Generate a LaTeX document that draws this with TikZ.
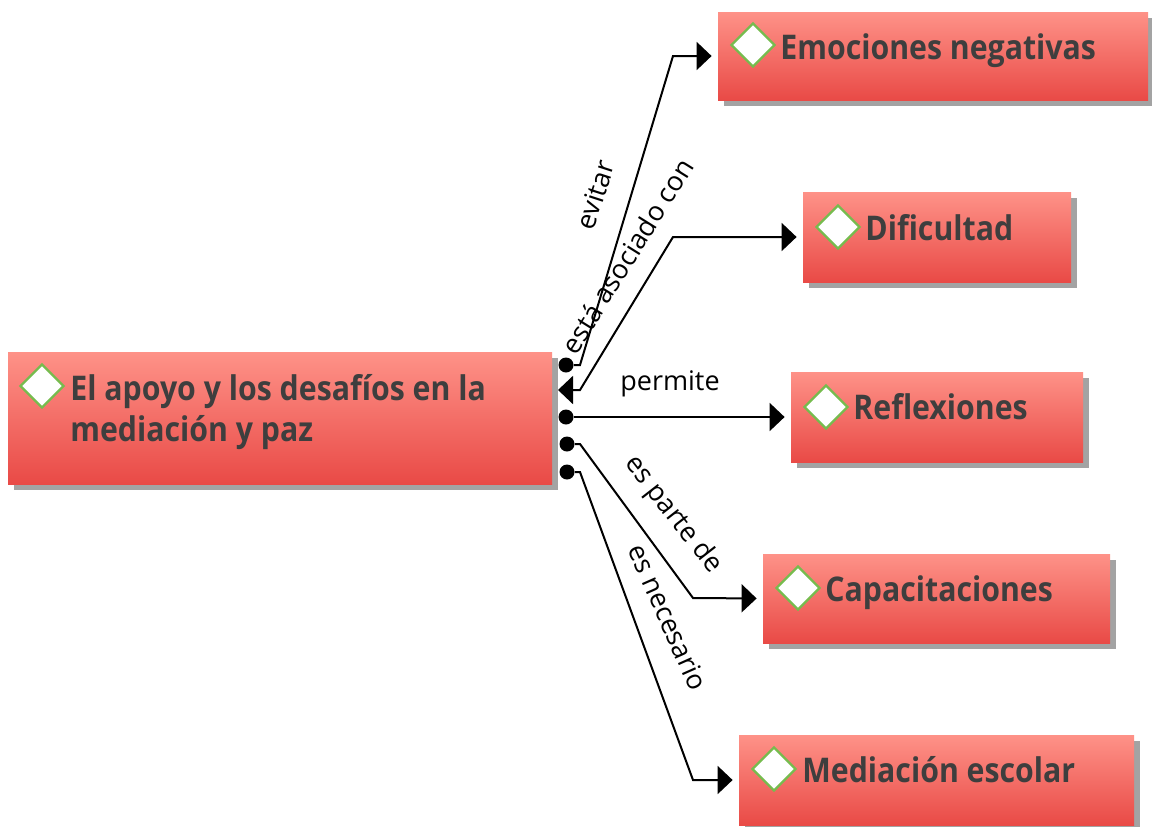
\documentclass[tikz,border=0pt]{standalone}
\usepackage{fontspec}
\setmainfont{Open Sans}
\newfontfamily\boxfont[FakeStretch=0.89]{Open Sans}
\usetikzlibrary{shapes.geometric,arrows.meta,shadows,fit}
\definecolor{boxtop}{RGB}{254,146,136}
\definecolor{boxbot}{RGB}{233,74,70}
\definecolor{dgreen}{RGB}{118,188,78}
\definecolor{txtgray}{RGB}{62,62,62}
\begin{document}
\begin{tikzpicture}[x=0.5pt,y=-0.5pt,
  box/.style={rectangle, inner sep=0pt, top color=boxtop, bottom color=boxbot, draw=none,
    drop shadow={shadow xshift=3pt, shadow yshift=-3pt, fill=black!60, opacity=0.6}},
  diam/.style={diamond, fill=white, draw=dgreen, line width=1.2pt, minimum width=22pt, minimum height=22pt, inner sep=0pt},
  btxt/.style={font=\boxfont\bfseries\fontsize{17}{20.5}\selectfont, text=txtgray, inner sep=0pt, anchor=base west, align=left},
  lbl/.style={font=\fontsize{13.5}{16}\selectfont, inner sep=0pt},
  conn/.style={line width=1pt, -{Triangle[length=7.5pt,width=14pt]}, shorten >=3pt, line join=miter},
  dot/.style={circle, fill=black, inner sep=0pt, minimum size=7.5pt}]
\useasboundingbox[fill=white] (0,0) rectangle (1152,826);

% boxes
\node[box, fit={(8,352) (552,484)}] (main) {};
\node[box, fit={(718,12) (1148,100)}] (emo) {};
\node[box, fit={(803,192) (1071,282)}] (dif) {};
\node[box, fit={(791,372) (1083,462)}] (ref) {};
\node[box, fit={(763,554) (1110,643)}] (cap) {};
\node[box, fit={(739,735) (1134,825)}] (med) {};

% diamonds
\node[diam] (main-d) at (42,386) {};
\node[diam] (emo-d) at (753,45) {};
\node[diam] (dif-d) at (838,227) {};
\node[diam] (ref-d) at (826,407) {};
\node[diam] (cap-d) at (798,588) {};
\node[diam] (med-d) at (774,769) {};

% texts
\node[btxt, anchor=west] (main-t) at (70,412) {El apoyo y los desafíos en la\\mediación y paz};
\node[btxt] (emo-t) at (780,59) {Emociones negativas};
\node[btxt] (dif-t) at (865,240) {Dificultad};
\node[btxt] (ref-t) at (853,419) {Reflexiones};
\node[btxt] (cap-t) at (825,601) {Capacitaciones};
\node[btxt] (med-t) at (802,782) {Mediación escolar};

% dots and coordinates
\node[dot] (d1) at (566,365) {};
\coordinate (a2) at (558,390);
\node[dot] (d3) at (566,417) {};
\node[dot] (d4) at (567,444) {};
\node[dot] (d5) at (567,472) {};

% connectors
\draw[conn] (d1) -- (580,365) -- (673,56) -- (emo.west);
\draw[conn, {Triangle[length=7.5pt,width=14pt]}-{Triangle[length=7.5pt,width=14pt]}] (a2) -- (580,390) -- (673,237) -- (dif.west);
\draw[conn] (d3) -- (ref.west);
\draw[conn] (d4) -- (580,444) -- (693,598) -- (cap.west);
\draw[conn] (d5) -- (580,472) -- (693,780) -- (med.west);

% labels
\node[lbl, rotate=72] (l1) at (595,195) {evitar};
\node[lbl, rotate=58] (l2) at (627,256) {está asociado con};
\node[lbl] (l3) at (670,384) {permite};
\node[lbl, rotate=-52] (l4) at (673,515) {es parte de};
\node[lbl, rotate=-66] (l5) at (668,617) {es necesario};
\end{tikzpicture}
\end{document}
